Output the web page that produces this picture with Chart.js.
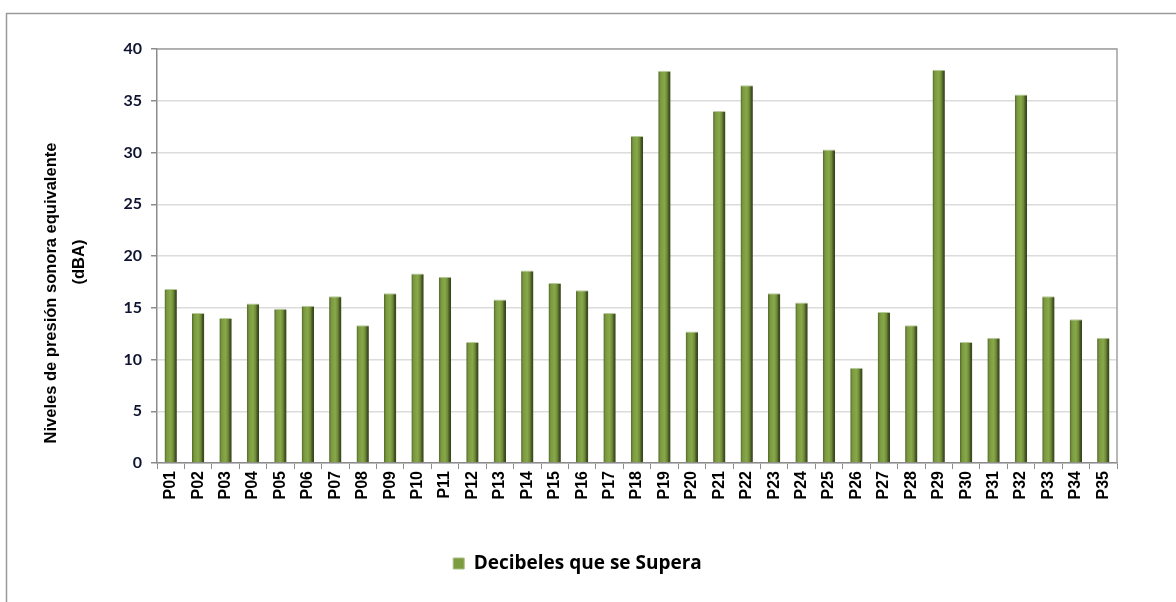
<!DOCTYPE html>
<html>
<head>
<meta charset="utf-8">
<script src="https://cdn.jsdelivr.net/npm/chart.js@4"></script>
<style>
  html, body { margin: 0; padding: 0; background: #fff; }
  #wrap { width: 1176px; height: 602px; position: relative; }
</style>
</head>
<body>
<div id="wrap"><canvas id="chart"></canvas></div>
<script>
// datos
const puntos = ['P01','P02','P03','P04','P05','P06','P07','P08','P09','P10',
  'P11','P12','P13','P14','P15','P16','P17','P18','P19','P20',
  'P21','P22','P23','P24','P25','P26','P27','P28','P29','P30',
  'P31','P32','P33','P34','P35'];
const decibeles = [16.8, 14.5, 14.0, 15.4, 14.9, 15.2, 16.1, 13.3, 16.4, 18.3,
  18.0, 11.7, 15.8, 18.6, 17.4, 16.7, 14.5, 31.6, 37.9, 12.7,
  34.0, 36.5, 16.4, 15.5, 30.3, 9.2, 14.6, 13.3, 38.0, 11.7,
  12.1, 35.6, 16.1, 13.9, 12.1];
const serieNombre = 'Decibeles que se Supera';
const tituloY = ['Niveles de presión sonora equivalente', '(dBA)'];

// degradado tipo cilindro para cada barra
function barGradient(c) {
  const chart = c.chart;
  if (!chart.chartArea || c.type !== 'data') return '#7d9c42';
  const x = chart.scales.x.getPixelForValue(c.dataIndex);
  const w = 12;
  const g = chart.ctx.createLinearGradient(x - w / 2, 0, x + w / 2, 0);
  g.addColorStop(0, '#55692b');
  g.addColorStop(0.18, '#7b9a40');
  g.addColorStop(0.5, '#88a84a');
  g.addColorStop(0.72, '#6d8a36');
  g.addColorStop(0.86, '#465822');
  g.addColorStop(1, '#36431a');
  return g;
}

const marcos = {
  id: 'marcos',
  beforeDraw(chart) {
    const ctx = chart.ctx;
    ctx.save();
    ctx.strokeStyle = '#9a9a9a';
    ctx.lineWidth = 1.5;
    ctx.strokeRect(6.5, 13.5, 1300, 700);
    ctx.restore();
  },
  afterDatasetsDraw(chart) {
    const a = chart.chartArea, ctx = chart.ctx;
    ctx.save();
    ctx.strokeStyle = '#a0a0a0';
    ctx.lineWidth = 1.5;
    ctx.beginPath();
    ctx.moveTo(a.left, a.top);
    ctx.lineTo(a.right, a.top);
    ctx.lineTo(a.right, a.bottom);
    ctx.stroke();
    // título del eje Y (dos líneas centradas por separado, como en el original)
    ctx.fillStyle = '#000';
    ctx.font = 'bold 16.5px "Liberation Sans"';
    ctx.textAlign = 'center';
    ctx.textBaseline = 'middle';
    ctx.translate(51, 293);
    ctx.rotate(-Math.PI / 2);
    ctx.fillText(tituloY[0], 0, 0);
    ctx.fillText(tituloY[1], 293 - 262, 28);
    ctx.restore();
  }
};

new Chart(document.getElementById('chart'), {
  type: 'bar',
  data: {
    labels: puntos,
    datasets: [{
      label: serieNombre,
      data: decibeles,
      backgroundColor: barGradient,
      borderColor: '#b7c99a',
      borderWidth: { top: 1, left: 0, right: 0, bottom: 0 },
      barPercentage: 0.45,
      categoryPercentage: 1
    }]
  },
  options: {
    responsive: true, maintainAspectRatio: false, animation: false,
    layout: { padding: { left: 38, top: 49, right: 59, bottom: 19 } },
    plugins: {
      tooltip: { enabled: false },
      legend: {
        position: 'bottom',
        labels: {
          boxWidth: 11, boxHeight: 11, padding: 12,
          color: '#000',
          font: { family: 'Open Sans', size: 19, weight: 'bold' },
          generateLabels: () => [{
            text: serieNombre, fillStyle: '#7d9c42', strokeStyle: '#a9bd83',
            lineWidth: 1, datasetIndex: 0
          }]
        }
      }
    },
    scales: {
      x: {
        afterFit: s => { s.height = 79; },
        grid: { drawOnChartArea: false, offset: true, tickLength: 6, color: '#8c8c8c' },
        border: { color: '#8c8c8c', width: 1.5 },
        ticks: {
          minRotation: 90, maxRotation: 90, padding: 2, color: '#000',
          font: { family: 'Liberation Sans', size: 16, weight: 'bold' }
        }
      },
      y: {
        min: 0, max: 40,
        afterFit: s => { s.width = 119; },
        grid: { color: '#dcdcdc', lineWidth: 1.5, tickLength: 6, tickColor: '#8c8c8c' },
        border: { color: '#8c8c8c', width: 1.5 },
        ticks: {
          stepSize: 5, padding: 9, color: '#0f1430',
          font: { family: 'Lato', size: 16, weight: 'bold' }
        }
      }
    }
  },
  plugins: [marcos]
});
</script>
</body>
</html>
